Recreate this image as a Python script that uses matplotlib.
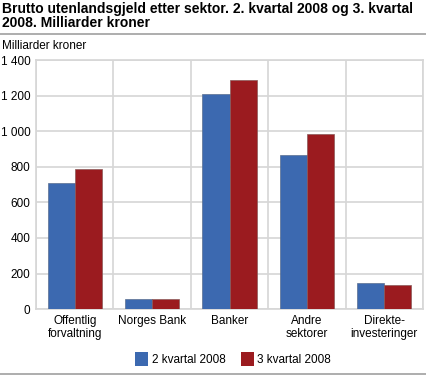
import numpy as np
import matplotlib.pyplot as plt
from matplotlib.patches import Patch
from matplotlib.lines import Line2D

plt.rcParams['font.family'] = ['Liberation Sans', 'DejaVu Sans']

categories = ["Offentlig\nforvaltning", "Norges Bank", "Banker", "Andre\nsektorer", "Direkte-\ninvesteringer"]
q2_2008 = [708, 58, 1208, 869, 148]
q3_2008 = [787, 54, 1290, 985, 133]
series_names = ["2 kvartal 2008", "3 kvartal 2008"]
yticks = [0, 200, 400, 600, 800, 1000, 1200, 1400]
ytick_labels = ["0", "200", "400", "600", "800", "1 000", "1 200", "1 400"]

blue = "#3c69b0"
red = "#9b1b1f"
grid = "#d6d6d6"

fig = plt.figure(figsize=(4.26, 3.76), dpi=100)
ax = fig.add_axes([0.0845, 0.178, 0.9085, 0.662])

x = np.arange(len(categories))
w = 0.35
ax.bar(x - w / 2, q2_2008, w, color=blue, edgecolor="#5a6f90", linewidth=0.5, zorder=3)
ax.bar(x + w / 2, q3_2008, w, color=red, edgecolor="#8a5a5a", linewidth=0.5, zorder=3)

ax.set_xlim(-0.5, len(categories) - 0.5)
ax.set_ylim(0, 1400)
ax.set_yticks(yticks)
ax.set_yticklabels(ytick_labels)
ax.set_xticks(x)
ax.set_xticklabels(categories)

# vertical lines between categories
ax.set_xticks(np.arange(-0.5, len(categories)), minor=True)
ax.grid(axis="x", which="minor", color=grid, linewidth=1.2, zorder=0)
ax.grid(axis="y", which="major", color=grid, linewidth=1.2, zorder=0)
ax.tick_params(axis="both", which="both", length=0, labelsize=8.5, colors="black")
ax.tick_params(axis="x", pad=4)
ax.tick_params(axis="y", pad=4)
for s in ax.spines.values():
    s.set_color(grid)
    s.set_linewidth(1.2)

fig.text(0.005, 0.995, "Brutto utenlandsgjeld etter sektor. 2. kvartal 2008 og 3. kvartal\n2008. Milliarder kroner",
         ha="left", va="top", fontsize=10, fontweight="bold", linespacing=1.05)
fig.add_artist(Line2D([0, 1], [1 - 33.5 / 376, 1 - 33.5 / 376], color="#a0a0a0", linewidth=1.2))
fig.add_artist(Line2D([0, 1], [1 - 374 / 376, 1 - 374 / 376], color="#a0a0a0", linewidth=1.2))
fig.text(0.005, 1 - 46 / 376, "Milliarder kroner", ha="left", va="center", fontsize=8.5)

handles = [Patch(facecolor=blue, edgecolor="none"), Patch(facecolor=red, edgecolor="none")]
fig.legend(handles, series_names, loc="center", bbox_to_anchor=(0.547, 1 - 359 / 376), ncol=2,
           frameon=False, fontsize=8.5, handlelength=1.1, handleheight=1.4, handletextpad=0.3,
           columnspacing=1.3)

fig.savefig("out.png", dpi=100)
